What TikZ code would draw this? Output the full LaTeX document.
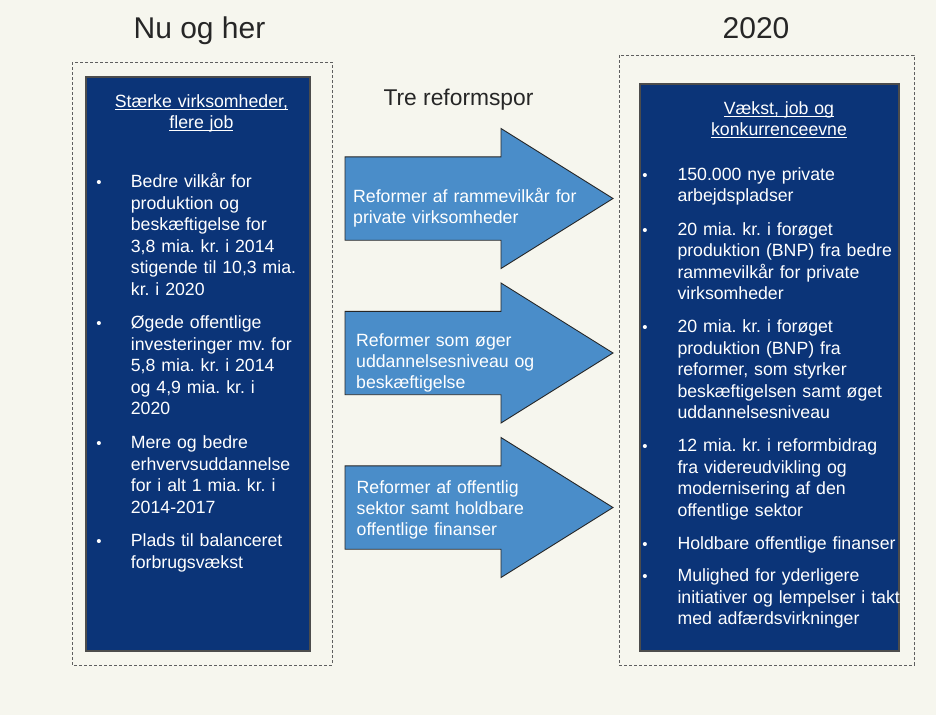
\documentclass[tikz,border=0pt]{standalone}
\usepackage{fontspec}
\setmainfont{Liberation Sans}
\frenchspacing

\definecolor{bgcream}{RGB}{246,246,238}
\definecolor{navy}{RGB}{11,52,120}
\definecolor{sporblue}{RGB}{74,141,201}
\definecolor{framegray}{RGB}{95,95,95}

% underlined heading line
\newsavebox{\headulbox}
\newcommand{\headul}[1]{\leavevmode\sbox{\headulbox}{#1}\rlap{\rule[-2.6pt]{\wd\headulbox}{1.2pt}}\usebox{\headulbox}}

\tikzset{
  titletext/.style={font=\fontsize{30}{36}\selectfont, text=black!85, anchor=base, inner sep=0pt},
  dashframe/.style={draw=framegray, line width=0.8pt, dash pattern=on 3pt off 2pt},
  navybox/.style={fill=navy, draw=black!70, line width=1.2pt},
  reformarrow/.style={fill=sporblue, draw=black!85, line width=0.9pt, line join=miter},
  itemtext/.style={font=\fontsize{17.7}{21.5}\selectfont, text=white, align=left,
    text width=#1, anchor=north west, inner sep=0pt, yshift=15.05pt,
    execute at begin node=\strut},
  itemtext/.default=185pt,
  headtext/.style={font=\fontsize{17.7}{21}\selectfont, text=white, align=center,
    text width=240pt, anchor=north, inner sep=0pt, yshift=14.7pt,
    execute at begin node=\strut},
  arrowtext/.style={font=\fontsize{17.7}{21}\selectfont, text=white, align=left,
    text width=245pt, anchor=north west, inner sep=0pt, yshift=14.7pt,
    execute at begin node=\strut},
  bulletdot/.style={font=\fontsize{15}{21.5}\selectfont, text=white, anchor=base, inner sep=0pt}
}

\begin{document}
\begin{tikzpicture}[x=1pt,y=-1pt]
  \useasboundingbox (0,0) rectangle (936,715);
  \fill[bgcream] (0,0) rectangle (936,715);

  % titles
  \node[titletext] (nuher) at (199.5,38.3) {Nu og her};
  \node[titletext] (aarstal) at (756,38.3) {2020};
  \node[titletext, font=\fontsize{22.8}{27}\selectfont] (sporlabel) at (458.5,105) {Tre reformspor};

  % dashed frames and boxes
  \draw[dashframe] (72,62) rectangle (332,665);
  \draw[dashframe] (619,55) rectangle (914,665);
  \draw[navybox] (86,77) coordinate(lt) rectangle (310,651) coordinate(lb);
  \draw[navybox] (640,84) coordinate(rt) rectangle (899,651) coordinate(rb);

  % three arrows
  \foreach \cy in {198.5,353,507.5}
    \draw[reformarrow] (345,{\cy-41.7}) -- (501,{\cy-41.7}) -- (501,{\cy-70})
      -- (613,\cy) -- (501,{\cy+70}) -- (501,{\cy+41.7}) -- (345,{\cy+41.7}) -- cycle;
  \node[arrowtext] (spor1) at (353,202.7) {Reformer af rammevilkår for\\private virksomheder};
  \node[arrowtext] (spor2) at (356,346) {Reformer som øger\\uddannelsesniveau og\\beskæftigelse};
  \node[arrowtext] (spor3) at (356.5,493.3) {Reformer af offentlig\\sektor samt holdbare\\offentlige finanser};

  % left box
  \node[headtext] (lhead) at (201.4,107.3) {\headul{Stærke virksomheder,}\\\headul{flere job}};
  \foreach \yb [count=\i] in {187.3,328.3,448.3,546.6}
    \node[bulletdot] (lbul\i) at (99,\yb) {•};
  \node[itemtext] (litem1) at (130.7,187.3) {Bedre vilkår for\\produktion og\\beskæftigelse for\\3,8 mia. kr. i 2014\\stigende til 10,3 mia.\\kr. i 2020};
  \node[itemtext] (litem2) at (130.7,328.3) {Øgede offentlige\\investeringer mv. for\\5,8 mia. kr. i 2014\\og 4,9 mia. kr. i\\2020};
  \node[itemtext] (litem3) at (130.7,448.3) {Mere og bedre\\erhvervsuddannelse\\for i alt 1 mia. kr. i\\2014-2017};
  \node[itemtext] (litem4) at (130.7,546.6) {Plads til balanceret\\forbrugsvækst};

  % right box
  \node[headtext] (rhead) at (779,114.3) {\headul{Vækst, job og}\\\headul{konkurrenceevne}};
  \foreach \yb [count=\i] in {180,235,332.7,451.7,549.3,581.7}
    \node[bulletdot] (rbul\i) at (645,\yb) {•};
  \node[itemtext=235pt] (ritem1) at (677.3,180) {150.000 nye private\\arbejdspladser};
  \node[itemtext=235pt] (ritem2) at (677.3,235) {20 mia. kr. i forøget\\produktion (BNP) fra bedre\\rammevilkår for private\\virksomheder};
  \node[itemtext=235pt] (ritem3) at (677.3,332.7) {20 mia. kr. i forøget\\produktion (BNP) fra\\reformer, som styrker\\beskæftigelsen samt øget\\uddannelsesniveau};
  \node[itemtext=235pt] (ritem4) at (677.3,451.7) {12 mia. kr. i reformbidrag\\fra videreudvikling og\\modernisering af den\\offentlige sektor};
  \node[itemtext=235pt] (ritem5) at (677.3,549.3) {Holdbare offentlige finanser};
  \node[itemtext=235pt] (ritem6) at (677.3,581.7) {Mulighed for yderligere\\initiativer og lempelser i takt\\med adfærdsvirkninger};
\end{tikzpicture}
\end{document}
